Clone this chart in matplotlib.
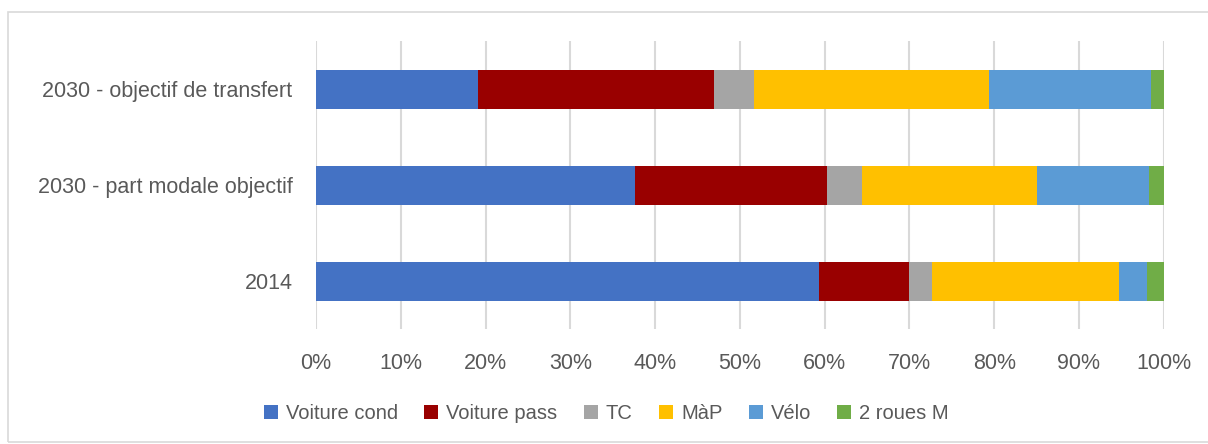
import matplotlib.pyplot as plt
import numpy as np
from matplotlib.patches import Rectangle

plt.rcParams['font.family'] = ['Liberation Sans Narrow', 'Liberation Sans', 'DejaVu Sans']

# parts modales (%), une liste par mode de transport
categories = ['2014', '2030 - part modale objectif', '2030 - objectif de transfert']
modes = ['Voiture cond', 'Voiture pass', 'TC', 'MàP', 'Vélo', '2 roues M']
voiture_cond = [59.3, 37.6, 19.1]
voiture_pass = [10.7, 22.7, 27.8]
tc = [2.7, 4.1, 4.8]
map_ = [22.0, 20.7, 27.65]
velo = [3.35, 13.2, 19.2]
deux_roues = [1.95, 1.7, 1.45]
series = [voiture_cond, voiture_pass, tc, map_, velo, deux_roues]
colors = ['#4472C4', '#990000', '#A5A5A5', '#FFC000', '#5B9BD5', '#70AD47']

fig = plt.figure(figsize=(12.08, 4.44), dpi=100)
ax = fig.add_axes([0.2616, 0.258, 0.7017, 0.649])

y = np.arange(len(categories))
left = np.zeros(len(categories))
for vals, col, name in zip(series, colors, modes):
    ax.barh(y, vals, left=left, height=0.4, color=col, label=name, zorder=3)
    left += np.array(vals)

ax.set_xlim(0, 100)
ax.set_ylim(-0.5, 2.5)
ax.set_xticks(np.arange(0, 101, 10))
ax.set_xticklabels([f'{v}%' for v in range(0, 101, 10)])
ax.set_yticks(y)
ax.set_yticklabels(categories)
ax.tick_params(length=0, labelsize=15.5, colors='#595959')
ax.tick_params(axis='x', pad=17)
ax.tick_params(axis='y', pad=17)
ax.grid(axis='x', color='#D9D9D9', linewidth=1.5, zorder=0)
for s in ax.spines.values():
    s.set_visible(False)

fig.legend(loc='center', bbox_to_anchor=(0.502, 0.068), ncol=6, frameon=False,
           fontsize=14.5, labelcolor='#595959', handlelength=0.7, handleheight=0.7,
           handletextpad=0.4, columnspacing=1.3)

# cadre du graphique
fig.add_artist(Rectangle((8 / 1208, 2 / 444), 1.0, 430 / 444, transform=fig.transFigure,
                         fill=False, edgecolor='#D9D9D9', linewidth=1.2))

fig.savefig('out.png', dpi=100)
